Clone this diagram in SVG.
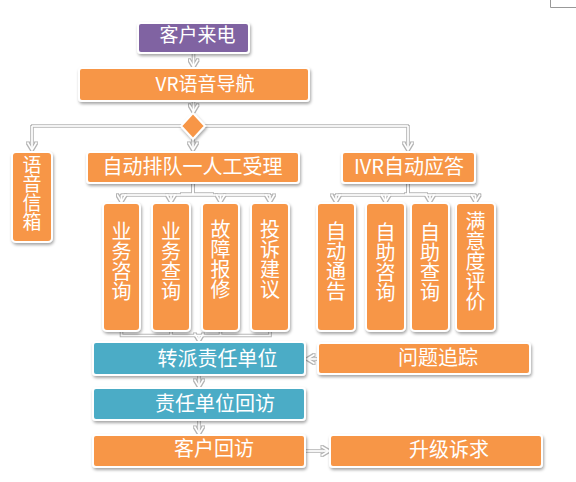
<svg xmlns="http://www.w3.org/2000/svg" width="576" height="482" viewBox="0 0 576 482">
<style>
.box{stroke:#fff;stroke-width:2;filter:url(#sh)}
.o{fill:#F79646}.p{fill:#8064A2}.b{fill:#4BACC6}
text{font-family:"Noto Sans CJK SC","Liberation Sans",sans-serif;fill:#fff;font-size:20px;text-anchor:middle}
.s19{font-size:19px}
.v{writing-mode:vertical-rl;text-anchor:start}
#connectors path{fill:none;stroke:#fff;stroke-width:1.6}
#connectors .a{marker-end:url(#arr)}
.dk{fill:none;stroke:#555;stroke-width:1}
</style>
<defs>
<filter id="sh" x="-20%" y="-20%" width="140%" height="140%">
<feDropShadow dx="1" dy="2" stdDeviation="1.5" flood-color="#000" flood-opacity="0.35"/>
</filter>
<filter id="outl" filterUnits="userSpaceOnUse" x="0" y="0" width="576" height="482">
<feMorphology in="SourceAlpha" operator="dilate" radius="1" result="d"/>
<feFlood flood-color="#b4b4b4"/>
<feComposite in2="d" operator="in" result="o"/>
<feMerge><feMergeNode in="o"/><feMergeNode in="SourceGraphic"/></feMerge>
</filter>
<marker id="arr" viewBox="0 0 10 10" refX="8.5" refY="5" markerWidth="10" markerHeight="10" markerUnits="userSpaceOnUse" orient="auto">
<path d="M1,0.5 L8.5,5 L1,9.5" fill="none" stroke="#fff" stroke-width="1.6"/>
</marker>
</defs>
<rect width="576" height="482" fill="#fff"/>
<path d="M550.5,0 V7.5 H576" fill="none" stroke="#999" stroke-width="1"/>

<g id="connectors" filter="url(#outl)">
<path class="a" d="M193.5,54 V67"/>
<path class="a" d="M193.5,102 V112"/>
<path d="M32,126 H408"/>
<path class="a" d="M32,126 V150"/>
<path class="a" d="M193,139 V150"/>
<path class="a" d="M408,126 V150"/>
<path d="M193,184 V195 M121.5,195 H270"/>
<path class="a" d="M121.5,195 V202"/>
<path class="a" d="M171,195 V202"/>
<path class="a" d="M220.5,195 V202"/>
<path class="a" d="M270,195 V202"/>
<path d="M408,184 V195 M336,195 H475.5"/>
<path class="a" d="M336,195 V202"/>
<path class="a" d="M385.5,195 V202"/>
<path class="a" d="M430,195 V202"/>
<path class="a" d="M475.5,195 V202"/>
<path d="M121.5,332 V335.5 H270 V332 M171,332 V335.5 M220.5,332 V335.5"/>
<path class="a" d="M199,335.5 V341"/>
<path class="a" d="M317,359 H307"/>
<path class="a" d="M199,376 V387"/>
<path class="a" d="M199,421 V434"/>
<path class="a" d="M306,451 H329"/>
<path class="dk" d="M193,185 V193.5 M181,194 H213"/>
<path class="dk" d="M408,185 V193.5 M405,194 H427"/>
</g>

<g id="n1"><rect class="box p" x="138" y="23" width="111" height="30" rx="3"/><text class="s19" x="197.5" y="42">客户来电</text></g>
<g id="n2"><rect class="box o" x="79" y="68" width="230" height="33" rx="3"/><text class="s19" x="205" y="91">VR语音导航</text></g>
<g id="diamond"><path class="box o" d="M193,113 L205,126 L193,139 L181,126 Z"/></g>
<g id="n3"><rect class="box o" x="12" y="152" width="40" height="90" rx="4"/><text class="s19 v" x="32" y="155">语音信箱</text></g>
<g id="n4"><rect class="box o" x="87" y="152" width="212" height="31" rx="3"/><text x="192.5" y="173.5">自动排队一人工受理</text></g>
<g id="n5"><rect class="box o" x="342" y="152" width="133" height="31" rx="3"/><text x="409" y="173.5">IVR自动应答</text></g>

<g id="c1"><rect class="box o" x="103" y="203" width="37" height="128" rx="4"/><text class="v" x="121.5" y="221">业务咨询</text></g>
<g id="c2"><rect class="box o" x="152" y="203" width="38" height="128" rx="4"/><text class="v" x="171" y="221">业务查询</text></g>
<g id="c3"><rect class="box o" x="202" y="203" width="37" height="128" rx="4"/><text class="v" x="220.5" y="219">故障报修</text></g>
<g id="c4"><rect class="box o" x="251" y="203" width="38" height="128" rx="4"/><text class="v" x="270" y="219">投诉建议</text></g>

<g id="c5"><rect class="box o" x="317" y="203" width="38" height="128" rx="4"/><text class="v" x="336" y="221">自动通告</text></g>
<g id="c6"><rect class="box o" x="366" y="203" width="39" height="128" rx="4"/><text class="v" x="385.5" y="222">自助咨询</text></g>
<g id="c7"><rect class="box o" x="411" y="203" width="38" height="128" rx="4"/><text class="v" x="430" y="222">自助查询</text></g>
<g id="c8"><rect class="box o" x="456" y="203" width="39" height="128" rx="4"/><text class="v" x="475.5" y="211">满意度评价</text></g>

<g id="n6"><rect class="box b" x="93" y="342" width="212" height="33" rx="3"/><text x="217.5" y="366">转派责任单位</text></g>
<g id="n7"><rect class="box o" x="318" y="343" width="212" height="31" rx="3"/><text x="438" y="365">问题追踪</text></g>
<g id="n8"><rect class="box b" x="93" y="388" width="212" height="32" rx="3"/><text x="215" y="411">责任单位回访</text></g>
<g id="n9"><rect class="box o" x="93" y="435" width="212" height="32" rx="3"/><text x="214" y="456">客户回访</text></g>
<g id="n10"><rect class="box o" x="330" y="435" width="212" height="32" rx="3"/><text x="449" y="457">升级诉求</text></g>
</svg>
